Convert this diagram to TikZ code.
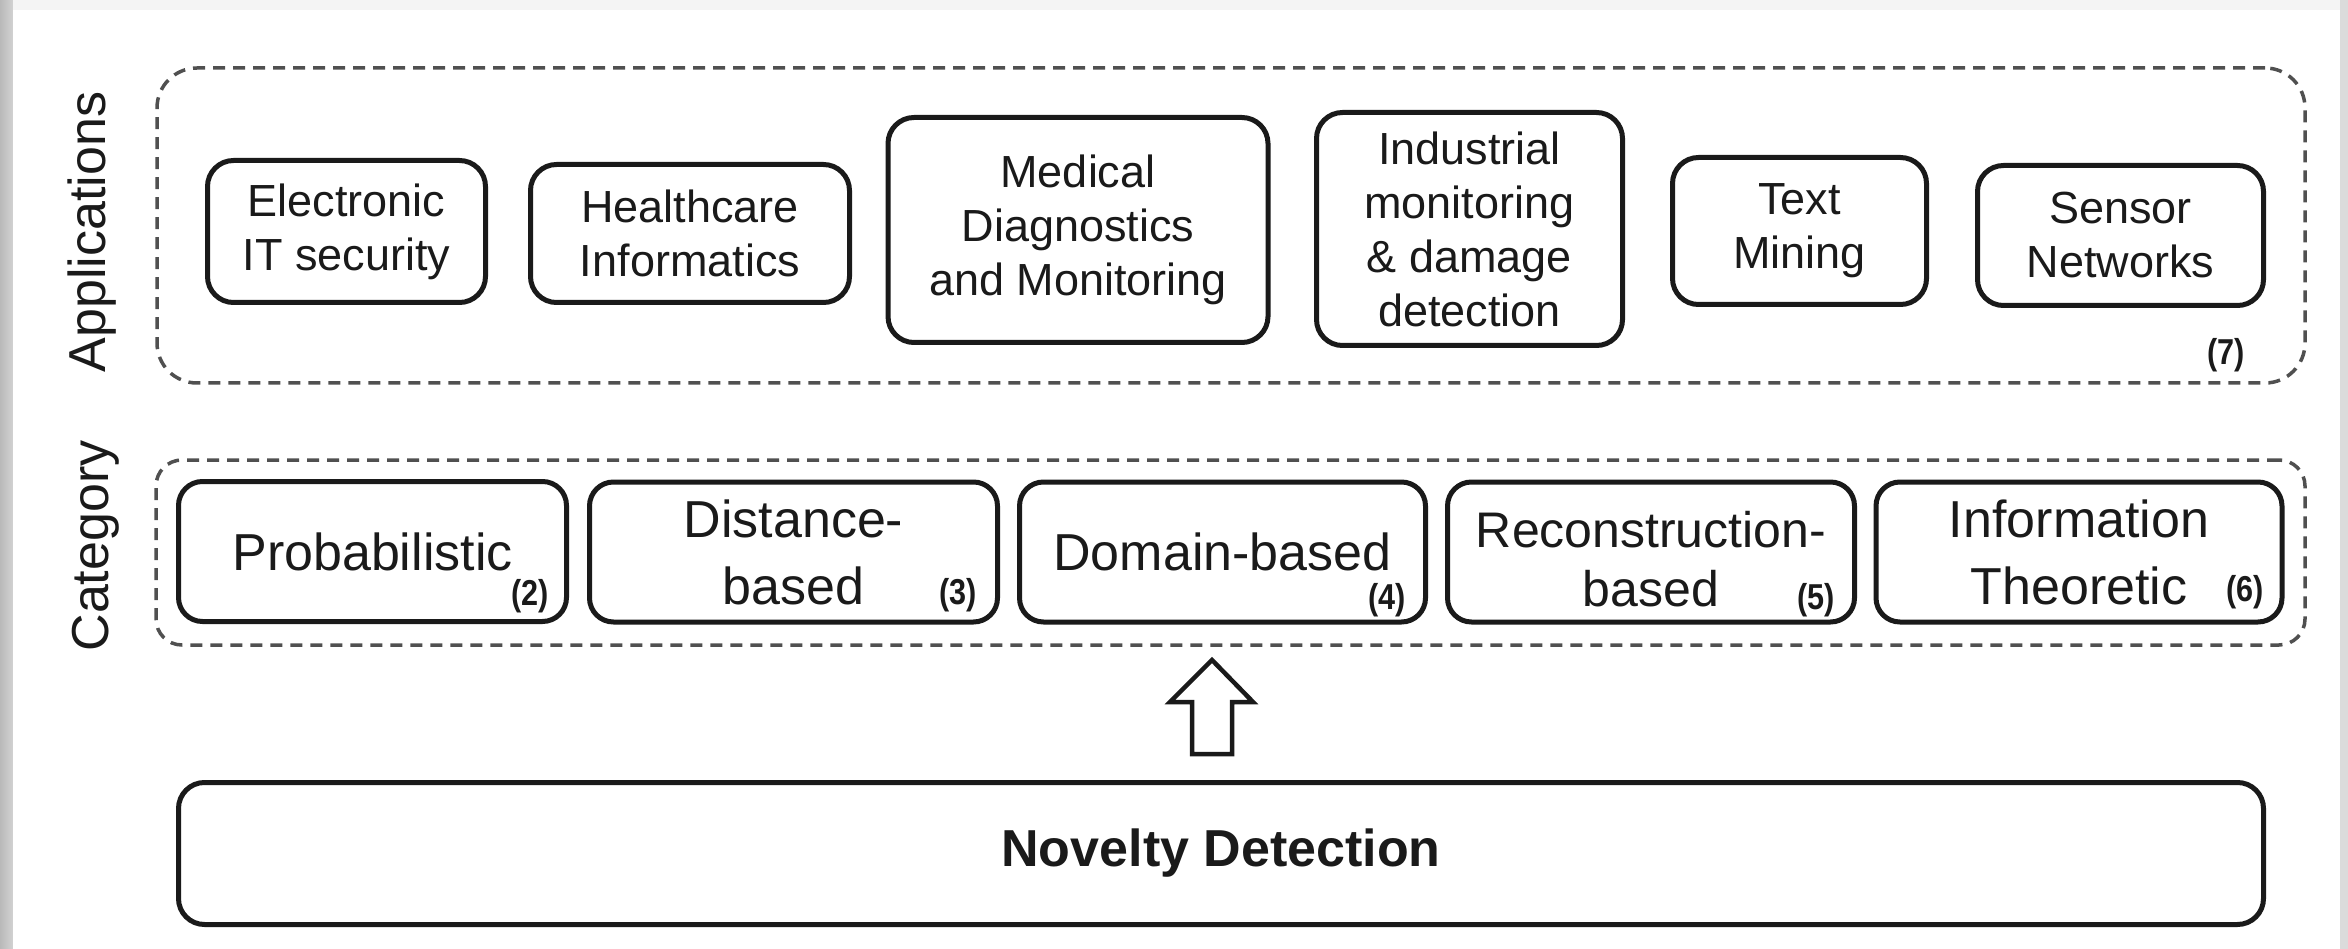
\documentclass[tikz,border=0pt]{standalone}
\usepackage{fontspec}
\setmainfont{Liberation Sans}
\newfontfamily\numfont[FakeStretch=0.85]{Liberation Sans}
\usetikzlibrary{calc}

\definecolor{ink}{HTML}{1A1A1A}
\definecolor{dashgray}{HTML}{505050}

\begin{document}
\begin{tikzpicture}[x=1pt,y=-1pt,
  appbox/.style={draw=ink, line width=5pt, rounded corners=26pt, inner sep=0pt,
    align=center, text=ink, font=\fontsize{45}{54}\selectfont},
  catbox/.style={draw=ink, line width=5pt, rounded corners=24pt, inner sep=0pt,
    align=center, text=ink, font=\fontsize{52}{67}\selectfont},
  groupbox/.style={draw=dashgray, line width=3.5pt, dash pattern=on 12pt off 8pt, inner sep=0pt},
  tag/.style={font=\numfont\bfseries\fontsize{36}{36}\selectfont, text=ink, inner sep=0pt},
  sidelabel/.style={rotate=90, anchor=base, font=\fontsize{52}{52}\selectfont, text=ink, inner sep=0pt},
]
% page with drop shadow
\useasboundingbox (0,0) rectangle (2348,949);
\fill[gray!28] (0,0) rectangle (2348,949);
\shade[left color=gray!55, right color=gray!35] (0,0) rectangle (13,949);
\fill[gray!9] (13,0) rectangle (2340,10);
\fill[white] (13,10) rectangle (2340,949);

% side titles
\node[sidelabel] (apptitle) at (105,232) {Applications};
\node[sidelabel] (cattitle) at (108,546) {Category};

% dashed groups
\node[groupbox, rounded corners=40pt, minimum width=2148, minimum height=315] (appgroup) at (1231,225.5) {};
\node[groupbox, rounded corners=26pt, minimum width=2149, minimum height=185] (catgroup) at (1230.5,552.5) {};

% applications
\node[appbox, minimum width=278, minimum height=142] (elec)   at (346.5,231.5) {Electronic\\IT security};
\node[appbox, minimum width=319, minimum height=138] (health) at (690,233.5)   {Healthcare\\Informatics};
\node[appbox, minimum width=380, minimum height=225] (medic)  at (1078,230)    {Medical\\Diagnostics\\and Monitoring};
\node[appbox, minimum width=306, minimum height=233] (indus)  at (1469.5,229)  {Industrial\\monitoring\\\& damage\\detection};
\node[appbox, minimum width=254, minimum height=147] (text)   at (1799.5,231)  {Text\\Mining};
\node[appbox, minimum width=286, minimum height=140] (sensor) at (2120.5,235.5) {Sensor\\Networks};
\node[tag] (tagseven) at (2226,355) {(7)};

% categories
\node[catbox, minimum width=388, minimum height=140] (prob)   at (372.5,551.5) {Probabilistic};
\node[catbox, minimum width=408, minimum height=140] (dist)   at (793.5,552)   {Distance-\\based};
\node[catbox, minimum width=406, minimum height=140] (domain) at (1222.5,552)  {Domain-based};
\node[catbox, minimum width=407, minimum height=140] (recon)  at (1651,552)    {};
\node[align=center, text=ink, inner sep=0pt, font=\fontsize{50}{59}\selectfont]
  (recontext) at (1651,559) {Reconstruction-\\based};
\node[catbox, minimum width=406, minimum height=140] (info)   at (2079,552)    {Information\\Theoretic};
\node[tag] (tagtwo)   at (530,596)  {(2)};
\node[tag] (tagthree) at (958,595)  {(3)};
\node[tag] (tagfour)  at (1387,600) {(4)};
\node[tag] (tagfive)  at (1816,600) {(5)};
\node[tag] (tagsix)   at (2245,592) {(6)};

% base layer
\node[draw=ink, line width=5pt, rounded corners=26pt, inner sep=0pt, text=ink,
  minimum width=2085, minimum height=142,
  font=\bfseries\fontsize{52}{52}\selectfont] (novelty) at (1221,853.5) {Novelty Detection};

% hollow block arrow from the base layer up to the categories
\coordinate (arrowtip) at (1212,660);
\draw[ink, line width=4.5pt, line join=miter, fill=white]
  (arrowtip) -- ++(41,42) -- ++(-21,0) -- ++(0,52) -- ++(-40,0) -- ++(0,-52) -- ++(-22,0) -- cycle;
\end{tikzpicture}
\end{document}
